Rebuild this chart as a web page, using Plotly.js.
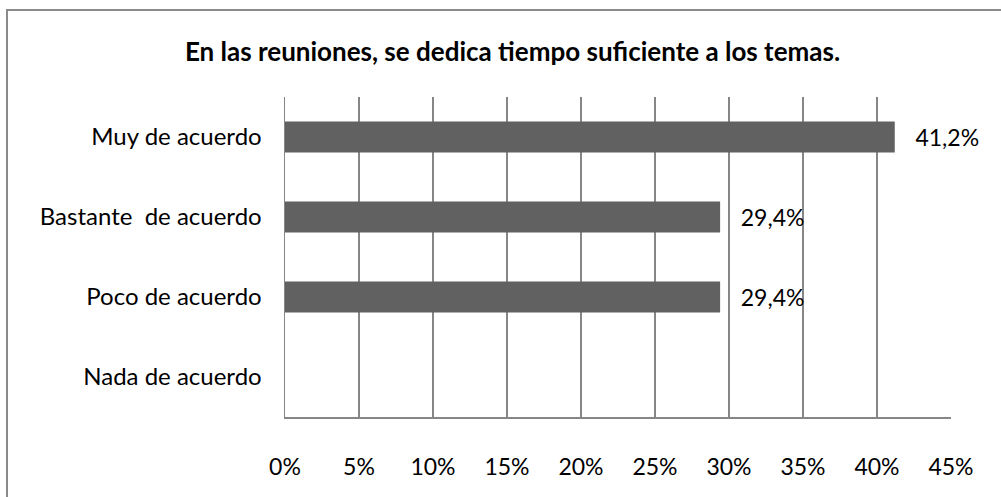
<!DOCTYPE html>
<html>
<head>
<meta charset="utf-8">
<script src="https://cdn.plot.ly/plotly-3.0.1.min.js"></script>
<style>
  html, body { margin:0; padding:0; background:#fff; }
  #wrap { position:relative; width:1001px; height:497px; overflow:hidden; }
  #chart { position:absolute; left:0; top:0; width:1001px; height:497px; }
  #frame { position:absolute; left:6px; top:9px; width:1100px; height:600px;
           border-left:2px solid #8a8a8a; border-top:2px solid #8a8a8a; pointer-events:none; }
</style>
</head>
<body>
<div id="wrap">
  <div id="chart"></div>
  <div id="frame"></div>
</div>
<script>
const categories = ["Muy de acuerdo", "Bastante  de acuerdo", "Poco de acuerdo", "Nada de acuerdo"];
const values = [0.412, 0.294, 0.294, null];
const labels = ["41,2%", "29,4%", "29,4%", ""];
const tickVals = [0, 0.05, 0.10, 0.15, 0.20, 0.25, 0.30, 0.35, 0.40, 0.45];
const tickText = ["0%", "5%", "10%", "15%", "20%", "25%", "30%", "35%", "40%", "45%"];

const FONT = "Lato, Carlito, sans-serif";

const trace = {
  type: "bar",
  orientation: "h",
  x: values,
  y: categories,
  text: labels.map(t => t ? "   " + t : ""),
  textposition: "outside",
  cliponaxis: false,
  textfont: { family: FONT, size: 23, color: "#000" },
  marker: { color: "#616161" },
  width: 0.39,
  hoverinfo: "none"
};

const layout = {
  width: 1001, height: 497,
  margin: { l: 285, r: 50, t: 97, b: 80 },
  paper_bgcolor: "rgba(0,0,0,0)",
  plot_bgcolor: "#fff",
  separators: ",.",
  showlegend: false,
  title: {
    text: "<b>En las reuniones, se dedica tiempo suficiente a los temas.</b>",
    font: { family: FONT, size: 26, color: "#000" },
    x: 0.512, xref: "container", xanchor: "center",
    y: 0.896, yref: "container", yanchor: "middle"
  },
  font: { family: FONT, size: 24, color: "#000" },
  xaxis: {
    range: [0, 0.45],
    tickvals: tickVals,
    ticktext: tickText,
    showgrid: true,
    gridcolor: "#868686",
    gridwidth: 1.5,
    showline: true,
    linecolor: "#868686",
    linewidth: 1.5,
    zeroline: false,
    ticks: "",
    ticklabelstandoff: 29,
    tickfont: { family: FONT, size: 23, color: "#000" },
    fixedrange: true
  },
  yaxis: {
    categoryorder: "array",
    categoryarray: categories.slice().reverse(),
    autorange: true,
    showgrid: false,
    showline: true,
    linecolor: "#868686",
    linewidth: 1.5,
    zeroline: false,
    ticks: "",
    ticklabelstandoff: 17,
    tickfont: { family: FONT, size: 24, color: "#000" },
    fixedrange: true
  }
};

Plotly.newPlot("chart", [trace], layout, { staticPlot: true, displayModeBar: false });
</script>
</body>
</html>
